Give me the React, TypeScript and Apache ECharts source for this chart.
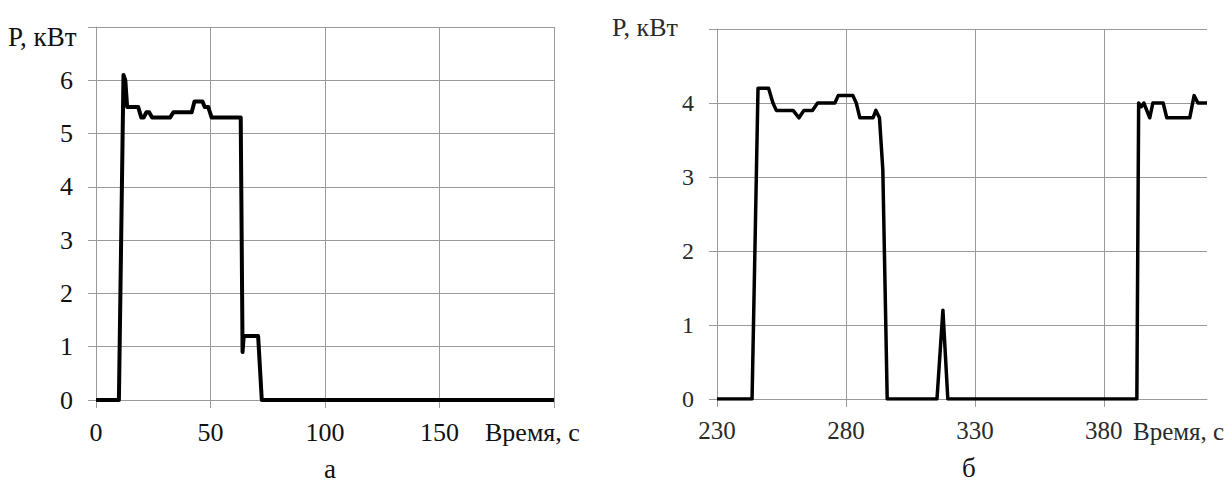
import React, { useEffect, useRef } from "react";
import * as echarts from "echarts";

// Chart "а"
const timeA = [0, 10, 12, 12.8, 13.6, 18.4, 19.8, 20.8, 22, 23.2, 24.5, 32.3, 33.8, 41.8, 43, 46.5, 47.5, 49, 50.5, 63.2, 64.0, 64.5, 70.8, 72.4, 200];
const powerA = [0, 0, 6.1, 6.0, 5.5, 5.5, 5.3, 5.3, 5.4, 5.4, 5.3, 5.3, 5.4, 5.4, 5.6, 5.6, 5.5, 5.5, 5.3, 5.3, 0.9, 1.2, 1.2, 0, 0];

// Chart "б"
const timeB = [230, 243.6, 245.9, 250, 251.7, 253, 259.5, 261.8, 263.7, 267, 269, 275.7, 277, 282.7, 284, 285.4, 290.5, 291.6, 293, 294.3, 296, 315.3, 317.6, 319.5, 392.8, 393.5, 394.5, 395.5, 397.8, 399, 403, 404.4, 413.3, 415, 416.5, 420];
const powerB = [0, 0, 4.2, 4.2, 4.0, 3.9, 3.9, 3.8, 3.9, 3.9, 4.0, 4.0, 4.1, 4.1, 4.0, 3.8, 3.8, 3.9, 3.8, 3.1, 0, 0, 1.2, 0, 0, 4.0, 3.95, 4.0, 3.8, 4.0, 4.0, 3.8, 3.8, 4.1, 4.0, 4.0];

const yNameText = "P, кВт";
const xNameText = "Время, с";
const captions = ["а", "б"];

const FONT = "Liberation Serif";
const GRID = "#9a9a9a";

export default function App() {
  const ref = useRef<HTMLDivElement>(null);
  useEffect(() => {
    document.body.style.margin = "0";
    const chart = echarts.init(ref.current!, null, { renderer: "svg" });
    const dataA = timeA.map((t, i) => [t, powerA[i]]);
    const dataB = timeB.map((t, i) => [t, powerB[i]]);
    const axisCommon = {
      axisLine: { show: true, lineStyle: { color: GRID, width: 1 } },
      axisTick: { show: true, length: 8, lineStyle: { color: GRID, width: 1 } },
      splitLine: { show: true, lineStyle: { color: GRID, width: 1 } },
    };
    const txt = (text: string, left: number, cy: number, size: number, fill: string) => ({
      type: "text", left, top: cy - size / 2,
      style: { text, fontFamily: FONT, fontSize: size, fill },
    });
    chart.setOption({
      animation: false,
      backgroundColor: "#ffffff",
      textStyle: { fontFamily: FONT },
      grid: [
        { left: 96, right: 1232 - 554, top: 27, bottom: 498 - 400, containLabel: false },
        { left: 717, right: 1232 - 1207, top: 29, bottom: 498 - 399, containLabel: false },
      ],
      xAxis: [
        {
          type: "value", gridIndex: 0, min: 0, max: 200, interval: 50,
          ...axisCommon,
          axisLabel: {
            color: "#111", fontFamily: FONT, fontSize: 26, margin: 19,
            formatter: (v: number) => (v === 200 ? "" : String(v)),
          },
        },
        {
          type: "value", gridIndex: 1, min: 230, max: 420, interval: 50,
          ...axisCommon,
          splitLine: { show: true, showMaxLine: false, lineStyle: { color: GRID, width: 1 } },
          axisLabel: {
            color: "#2a2a2a", fontFamily: FONT, fontSize: 25, margin: 19,
            showMaxLabel: false,
            formatter: (v: number) => (v === 420 ? "" : String(v)),
          },
        },
      ],
      yAxis: [
        {
          type: "value", gridIndex: 0, min: 0, max: 7, interval: 1,
          ...axisCommon,
          axisLabel: {
            color: "#111", fontFamily: FONT, fontSize: 26, margin: 23,
            formatter: (v: number) => (v === 7 ? "" : String(v)),
          },
        },
        {
          type: "value", gridIndex: 1, min: 0, max: 5, interval: 1,
          ...axisCommon,
          axisLabel: {
            color: "#2a2a2a", fontFamily: FONT, fontSize: 24, margin: 23,
            formatter: (v: number) => (v === 5 ? "" : String(v)),
          },
        },
      ],
      series: [
        {
          type: "line", xAxisIndex: 0, yAxisIndex: 0, data: dataA, showSymbol: false,
          lineStyle: { color: "#000", width: 4, join: "round" }, z: 5,
        },
        {
          type: "line", xAxisIndex: 1, yAxisIndex: 1, data: dataB, showSymbol: false,
          lineStyle: { color: "#000", width: 3.5, join: "round" }, z: 5,
        },
      ],
      graphic: [
        txt(yNameText, 8, 37, 27, "#111"),
        txt(yNameText, 612, 27, 26, "#2a2a2a"),
        txt(xNameText, 485, 432, 26, "#111"),
        txt(xNameText, 1133, 431, 25, "#2a2a2a"),
        txt(captions[0], 324, 469, 27, "#111"),
        txt(captions[1], 962, 468, 27, "#111"),
      ],
    });
    return () => chart.dispose();
  }, []);
  return <div ref={ref} style={{ width: 1232, height: 498 }} />;
}
